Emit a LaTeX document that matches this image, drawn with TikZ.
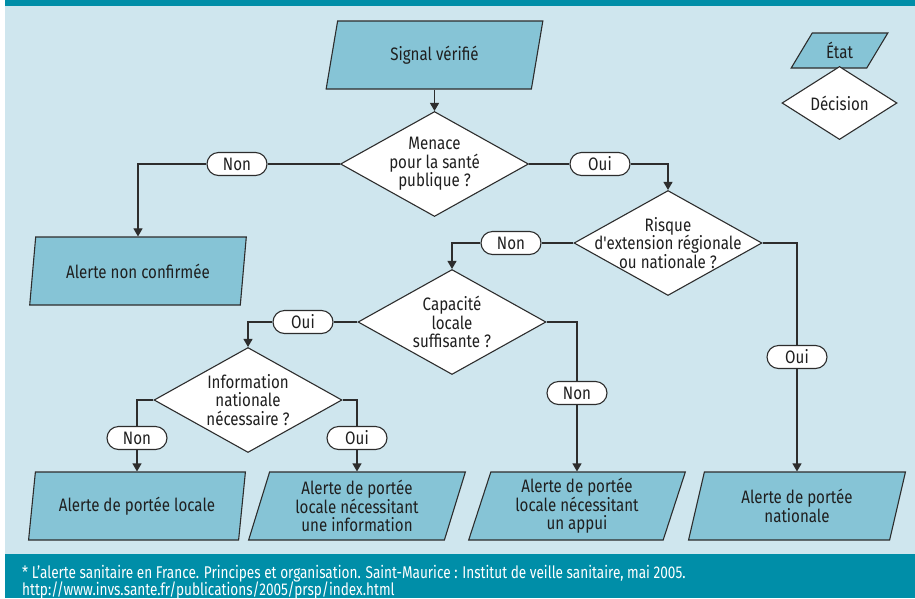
\documentclass[tikz,border=0pt]{standalone}
\usepackage{fontspec}
\setmainfont{Fira Sans}[FakeStretch=0.84,Ligatures=TeXOff]
\newfontfamily\notefont{Fira Sans}[FakeStretch=0.8]
\usetikzlibrary{shapes.geometric,shapes.misc,arrows.meta}
\definecolor{bandteal}{RGB}{0,142,168}
\definecolor{panelblue}{RGB}{207,230,238}
\definecolor{statefill}{RGB}{134,196,214}
\definecolor{linegray}{RGB}{45,45,45}
\begin{document}
\begin{tikzpicture}[x=1pt,y=-1pt,
        font=\fontsize{18}{18.5}\selectfont,text=black!88,
        etat/.style={trapezium,trapezium left angle=74,trapezium right angle=106,
            trapezium stretches=true,draw=linegray,line width=1.1pt,fill=statefill,
            minimum width=217pt,minimum height=68pt,inner sep=0pt,align=center},
        decision/.style={diamond,draw=linegray,line width=1.1pt,fill=white,
            minimum width=188pt,minimum height=105pt,inner sep=-32pt,align=center},
        reponse/.style={rounded rectangle,draw=linegray,line width=1.1pt,fill=white,
            minimum width=60pt,minimum height=23pt,inner sep=0pt},
        lien/.style={draw=linegray,line width=1.1pt},
        fleche/.style={lien,-{Triangle[width=9pt,length=8pt]}}]
    \useasboundingbox (0,0) rectangle (915,598);
    \fill[white] (0,0) rectangle (915,598);
    \fill[panelblue] (5,6) rectangle (915,554);
    \fill[bandteal] (5,0) rectangle (915,6);
    \fill[bandteal] (5,554) rectangle (915,598);
    % legende
    \node[etat,trapezium left angle=58,trapezium right angle=122,
        minimum width=97pt,minimum height=35pt] (legetat) at (839.5,50.5) {État};
    \node[decision,inner sep=0pt,minimum width=115pt,minimum height=52pt] (legdec) at (839.5,103) {Décision};
    % etats et decisions
    \node[etat] (signal) at (434.5,55) {Signal vérifié};
    \node[decision] (menace) at (434.5,164) {Menace\\pour la santé\\publique ?};
    \node[etat] (nonconf) at (138,271) {Alerte non confirmée};
    \node[decision] (risque) at (668,243) {Risque\\d'extension régionale\\ou nationale ?};
    \node[decision] (capacite) at (452,322) {Capacité\\locale\\suffisante ?};
    \node[decision] (info) at (248,400) {Information\\nationale\\nécessaire ?};
    \node[etat] (locale) at (137,506) {Alerte de portée locale};
    \node[etat] (localeinfo) at (357,506) {Alerte de portée\\locale nécessitant\\une information};
    \node[etat] (localeappui) at (577,506) {Alerte de portée\\locale nécessitant\\un appui};
    \node[etat] (nationale) at (797,506) {Alerte de portée\\nationale};
    % reponses
    \node[reponse] (non1) at (237,164) {Non};
    \node[reponse] (oui1) at (600,164) {Oui};
    \node[reponse] (non2) at (511,243) {Non};
    \node[reponse] (oui2) at (797,357) {Oui};
    \node[reponse] (oui3) at (303,322) {Oui};
    \node[reponse] (non3) at (577,393) {Non};
    \node[reponse] (non4) at (137,438) {Non};
    \node[reponse] (oui4) at (357,438) {Oui};
    % liens
    \draw[fleche] (menace.north |- signal.south) -- (menace.north);
    \draw[lien] (menace.west) -- (non1.east);
    \draw[fleche] (non1.west) -| (nonconf.center |- nonconf.north);
    \draw[lien] (menace.east) -- (oui1.west);
    \draw[fleche] (oui1.east) -| (risque.north);
    \draw[lien] (risque.west) -- (non2.east);
    \draw[fleche] (non2.west) -| (capacite.north);
    \draw[lien] (risque.east) -| (oui2.north);
    \draw[fleche] (oui2.south) -- (oui2.south |- nationale.north);
    \draw[lien] (capacite.west) -- (oui3.east);
    \draw[fleche] (oui3.west) -| (info.north);
    \draw[lien] (capacite.east) -| (non3.north);
    \draw[fleche] (non3.south) -- (non3.south |- localeappui.north);
    \draw[lien] (info.west) -| (non4.north);
    \draw[fleche] (non4.south) -- (non4.south |- locale.north);
    \draw[lien] (info.east) -| (oui4.north);
    \draw[fleche] (oui4.south) -- (oui4.south |- localeinfo.north);
    % source
    \node[anchor=base west,inner sep=0pt,text=white,font=\notefont\fontsize{17}{17}\selectfont] (source) at (22,578)
        {* L’alerte sanitaire en France. Principes et organisation. Saint-Maurice : Institut de veille sanitaire, mai 2005.};
    \node[anchor=base west,inner sep=0pt,text=white,font=\notefont\fontsize{17}{17}\selectfont] (lien) at (22,595)
        {http://www.invs.sante.fr/publications/2005/prsp/index.html};
\end{tikzpicture}
\end{document}
